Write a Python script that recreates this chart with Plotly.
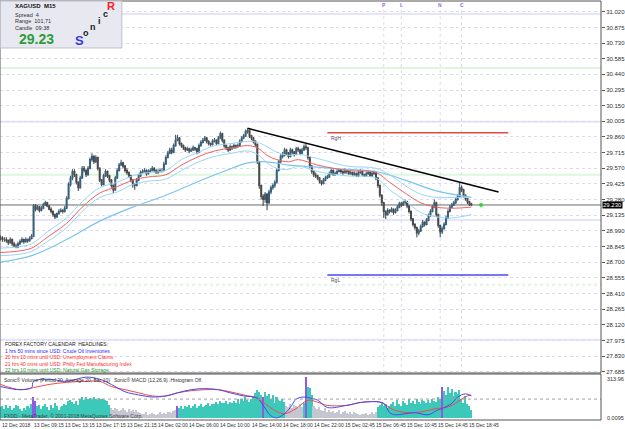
import plotly.graph_objects as go

# ---------------- DATA ----------------
OPEN0 = 28.93
CLOSES = [
    28.92, 28.91, 28.91, 28.90, 28.88, 28.91, 28.87, 28.85, 28.84, 28.87,
    28.89, 28.91, 28.89, 28.91, 28.90, 28.92, 28.94, 29.22, 29.19, 29.21,
    29.18, 29.20, 29.23, 29.25, 29.22, 29.19, 29.17, 29.14, 29.12, 29.15,
    29.17, 29.18, 29.17, 29.20, 29.29, 29.42, 29.48, 29.54, 29.51, 29.44,
    29.39, 29.48, 29.57, 29.55, 29.51, 29.57, 29.65, 29.68, 29.63, 29.67,
    29.57, 29.46, 29.42, 29.50, 29.54, 29.50, 29.46, 29.41, 29.37, 29.48,
    29.55, 29.60, 29.62, 29.59, 29.55, 29.53, 29.50, 29.46, 29.42, 29.41,
    29.46, 29.50, 29.53, 29.54, 29.55, 29.52, 29.54, 29.55, 29.57, 29.55,
    29.53, 29.54, 29.55, 29.55, 29.61, 29.67, 29.71, 29.74, 29.72, 29.78,
    29.83, 29.85, 29.80, 29.78, 29.76, 29.74, 29.75, 29.73, 29.74, 29.76,
    29.75, 29.72, 29.78, 29.81, 29.83, 29.85, 29.82, 29.80, 29.79, 29.82,
    29.83, 29.80, 29.85, 29.89, 29.83, 29.78, 29.76, 29.74, 29.77, 29.76,
    29.78, 29.77, 29.78, 29.82, 29.85, 29.87, 29.91, 29.92, 29.87, 29.85,
    29.82, 29.79, 29.63, 29.41, 29.31, 29.28, 29.33, 29.25, 29.35, 29.39,
    29.41, 29.44, 29.55, 29.63, 29.68, 29.69, 29.74, 29.71, 29.68, 29.74,
    29.72, 29.70, 29.75, 29.74, 29.71, 29.74, 29.77, 29.76, 29.67, 29.59,
    29.54, 29.51, 29.50, 29.48, 29.45, 29.43, 29.46, 29.48, 29.49, 29.52,
    29.55, 29.51, 29.52, 29.54, 29.55, 29.54, 29.53, 29.55, 29.54, 29.52,
    29.53, 29.51, 29.52, 29.50, 29.53, 29.54, 29.51, 29.50, 29.52, 29.53,
    29.50, 29.52, 29.53, 29.48, 29.41, 29.32, 29.25, 29.17, 29.14, 29.18,
    29.17, 29.19, 29.16, 29.18, 29.21, 29.24, 29.23, 29.25, 29.26, 29.22,
    29.17, 29.10, 29.05, 29.02, 28.97, 28.99, 29.03, 29.07, 29.05, 29.09,
    29.13, 29.17, 29.21, 29.25, 29.14, 29.04, 28.98, 29.01, 29.05, 29.11,
    29.17, 29.21, 29.23, 29.25, 29.28, 29.31, 29.39, 29.37, 29.32, 29.29,
    29.26, 29.24, 29.23,
]
HIGHS = [
    28.95, 28.94, 28.93, 28.93, 28.91, 28.93, 28.92, 28.89, 28.87, 28.89,
    28.91, 28.93, 28.92, 28.93, 28.92, 28.94, 28.96, 29.24, 29.24, 29.23,
    29.22, 29.22, 29.25, 29.27, 29.26, 29.23, 29.21, 29.18, 29.15, 29.16,
    29.19, 29.20, 29.19, 29.22, 29.31, 29.44, 29.50, 29.56, 29.56, 29.52,
    29.45, 29.50, 29.59, 29.59, 29.56, 29.59, 29.67, 29.71, 29.69, 29.69,
    29.68, 29.58, 29.47, 29.52, 29.56, 29.55, 29.51, 29.47, 29.42, 29.50,
    29.57, 29.62, 29.65, 29.63, 29.60, 29.57, 29.54, 29.51, 29.47, 29.43,
    29.48, 29.52, 29.55, 29.56, 29.57, 29.56, 29.56, 29.57, 29.59, 29.58,
    29.56, 29.56, 29.57, 29.57, 29.63, 29.69, 29.73, 29.76, 29.76, 29.80,
    29.88, 29.88, 29.86, 29.81, 29.79, 29.77, 29.77, 29.76, 29.76, 29.78,
    29.77, 29.76, 29.80, 29.83, 29.85, 29.87, 29.86, 29.83, 29.81, 29.84,
    29.85, 29.84, 29.87, 29.91, 29.90, 29.84, 29.79, 29.77, 29.79, 29.78,
    29.80, 29.79, 29.80, 29.84, 29.87, 29.89, 29.93, 29.94, 29.93, 29.88,
    29.86, 29.83, 29.80, 29.64, 29.42, 29.33, 29.35, 29.34, 29.37, 29.41,
    29.43, 29.46, 29.57, 29.65, 29.70, 29.72, 29.76, 29.75, 29.72, 29.76,
    29.75, 29.73, 29.77, 29.77, 29.75, 29.76, 29.79, 29.80, 29.77, 29.68,
    29.60, 29.55, 29.53, 29.51, 29.49, 29.46, 29.48, 29.50, 29.51, 29.54,
    29.57, 29.56, 29.54, 29.56, 29.57, 29.56, 29.55, 29.57, 29.56, 29.55,
    29.55, 29.54, 29.54, 29.53, 29.55, 29.56, 29.55, 29.52, 29.54, 29.55,
    29.54, 29.54, 29.55, 29.54, 29.49, 29.42, 29.33, 29.26, 29.18, 29.20,
    29.19, 29.21, 29.20, 29.20, 29.23, 29.26, 29.26, 29.27, 29.28, 29.27,
    29.23, 29.18, 29.11, 29.06, 29.03, 29.01, 29.05, 29.09, 29.08, 29.11,
    29.15, 29.19, 29.23, 29.28, 29.26, 29.15, 29.05, 29.03, 29.07, 29.13,
    29.19, 29.23, 29.25, 29.27, 29.30, 29.33, 29.44, 29.41, 29.38, 29.33,
    29.30, 29.27, 29.25,
]
LOWS = [
    28.90, 28.89, 28.89, 28.88, 28.86, 28.87, 28.85, 28.84, 28.83, 28.83,
    28.86, 28.88, 28.87, 28.88, 28.88, 28.89, 28.91, 28.93, 29.17, 29.18,
    29.16, 29.17, 29.19, 29.22, 29.21, 29.18, 29.15, 29.12, 29.10, 29.11,
    29.14, 29.16, 29.15, 29.16, 29.19, 29.28, 29.40, 29.46, 29.49, 29.42,
    29.36, 29.38, 29.47, 29.53, 29.49, 29.50, 29.56, 29.63, 29.61, 29.62,
    29.55, 29.44, 29.40, 29.41, 29.49, 29.48, 29.44, 29.39, 29.34, 29.36,
    29.47, 29.54, 29.59, 29.57, 29.53, 29.51, 29.48, 29.44, 29.39, 29.37,
    29.40, 29.45, 29.49, 29.52, 29.53, 29.50, 29.51, 29.53, 29.54, 29.53,
    29.52, 29.52, 29.53, 29.53, 29.54, 29.60, 29.66, 29.70, 29.70, 29.71,
    29.77, 29.82, 29.78, 29.76, 29.74, 29.72, 29.73, 29.71, 29.72, 29.73,
    29.73, 29.70, 29.71, 29.77, 29.80, 29.82, 29.80, 29.78, 29.77, 29.78,
    29.81, 29.78, 29.79, 29.84, 29.81, 29.76, 29.74, 29.72, 29.73, 29.74,
    29.75, 29.75, 29.76, 29.77, 29.81, 29.84, 29.86, 29.89, 29.85, 29.83,
    29.80, 29.77, 29.61, 29.38, 29.28, 29.22, 29.25, 29.18, 29.24, 29.33,
    29.37, 29.39, 29.43, 29.54, 29.62, 29.66, 29.68, 29.69, 29.66, 29.67,
    29.70, 29.68, 29.69, 29.72, 29.69, 29.70, 29.73, 29.74, 29.65, 29.57,
    29.52, 29.49, 29.48, 29.46, 29.43, 29.41, 29.42, 29.45, 29.47, 29.48,
    29.51, 29.50, 29.50, 29.51, 29.53, 29.52, 29.51, 29.52, 29.52, 29.51,
    29.51, 29.50, 29.50, 29.49, 29.49, 29.52, 29.50, 29.49, 29.49, 29.51,
    29.49, 29.49, 29.51, 29.46, 29.39, 29.30, 29.22, 29.11, 29.10, 29.13,
    29.15, 29.16, 29.14, 29.15, 29.17, 29.20, 29.21, 29.22, 29.24, 29.20,
    29.15, 29.08, 29.03, 29.00, 28.93, 28.95, 28.98, 29.02, 29.03, 29.04,
    29.08, 29.12, 29.16, 29.20, 29.12, 29.02, 28.93, 28.96, 29.00, 29.04,
    29.10, 29.16, 29.20, 29.22, 29.24, 29.27, 29.30, 29.35, 29.30, 29.27,
    29.24, 29.22, 29.22,
]

MA_X = [0, 8, 16, 24, 34, 42, 51, 60, 68, 76, 85, 93, 102, 110, 119, 127, 132, 137, 142, 148,
        153, 163, 178, 193, 200, 208, 216, 224, 232, 242]
MA_MID = [28.79, 28.80, 28.83, 28.93, 29.06, 29.21, 29.34, 29.40, 29.46, 29.49,
          29.51, 29.60, 29.68, 29.73, 29.76, 29.78, 29.76, 29.69, 29.65, 29.63,
          29.65, 29.60, 29.55, 29.53, 29.44, 29.34, 29.25, 29.21, 29.20, 29.21]
MA_UP = [28.83, 28.84, 28.87, 28.98, 29.11, 29.26, 29.39, 29.44, 29.50, 29.53,
         29.55, 29.65, 29.72, 29.78, 29.80, 29.82, 29.81, 29.77, 29.72, 29.69,
         29.70, 29.66, 29.59, 29.57, 29.51, 29.41, 29.33, 29.30, 29.30, 29.30]
MA_DN = [28.76, 28.77, 28.80, 28.89, 29.02, 29.17, 29.30, 29.35, 29.42, 29.45,
         29.47, 29.55, 29.63, 29.68, 29.71, 29.73, 29.70, 29.62, 29.57, 29.56,
         29.59, 29.54, 29.50, 29.48, 29.37, 29.27, 29.16, 29.12, 29.11, 29.14]
SLOW_X = [0, 16, 34, 51, 68, 85, 102, 119, 127, 137, 148, 163, 178, 193, 208, 224, 242]
SLOW = [28.70, 28.76, 28.91, 29.08, 29.21, 29.32, 29.45, 29.57, 29.62, 29.63,
        29.60, 29.58, 29.56, 29.54, 29.46, 29.36, 29.30]

TREND_X = [127, 256]
TREND_Y = [29.94, 29.35]
RGH_X = [168, 261]
RGH = 29.90
RGL_X = [168, 261]
RGL = 28.58
BID = 29.23
NEXT_BAR = 247
PIVOTS = [31.00, 30.50, 30.00, 29.51, 29.09, 28.49, 27.98]
PIVOT_KIND = ["v", "g", "v", "g", "v", "g", "v"]
NEWS_BARS = [197, 206, 226, 237]
NEWS_TAGS = ["P", "L", "N", "C"]

PRICE_TICKS = [31.020, 30.875, 30.730, 30.585, 30.440, 30.295, 30.150, 30.005, 29.860,
               29.715, 29.570, 29.425, 29.280, 29.135, 28.990, 28.845, 28.700, 28.555,
               28.410, 28.265, 28.120, 27.975, 27.830, 27.685]

VOLUME = [
    85, 95, 70, 100, 80, 90,
    60, 75, 100, 95, 70, 55, 80, 65, 90, 75,
    110, 165, 130, 90, 100,
    70, 95, 110, 85, 60, 100, 75, 120, 90, 65,
    85, 95, 110, 100, 130,
    140, 125, 110, 130, 100,
    150, 160, 140, 165, 150, 155, 145, 160, 150, 140, 155, 145, 150,
    140, 130, 100,
    75, 60, 80, 70, 55, 65, 80, 60, 50, 70, 55, 65, 45, 60, 50,
    40, 35, 30, 45, 25, 35, 40, 30, 25, 35, 45, 30, 40, 35, 50,
    45, 40, 55, 60, 95,
    80, 90, 70, 95, 85, 100, 75, 90, 105, 80, 95, 110, 85, 90, 100, 115, 95, 105,
    110, 125, 105, 130, 120, 115, 135, 110, 125, 120,
    130, 120, 145, 110, 150, 135, 160, 140, 125, 150,
    170, 190, 215, 200, 180,
    165,
    200, 170, 185, 150, 175, 120, 165, 140, 130, 150, 125,
    95, 85, 110, 80, 100, 90, 75, 105, 85,
    120, 314,
    240, 230, 180,
    95, 80, 70, 85, 60, 55, 75, 50, 65, 45, 55, 40, 50, 60, 35, 45, 55, 40, 30, 50, 35, 45, 40, 30,
    25, 35, 30, 40, 25, 30, 45, 35, 50,
    85, 100, 120, 95, 110, 80, 90,
    105, 125, 90, 140, 110, 95, 130, 115, 100, 145, 120, 135, 105, 150, 125, 110, 140, 130,
    120, 140, 115, 150, 135, 125, 160, 145,
    235,
    210, 180, 240, 195, 225, 170, 200, 185, 215,
    150, 120, 170, 110, 90, 60,
]
VOL_KIND = ("t" * 17 + "pp" + "t" * 38 + "g" * 34 + "p" + "t" * 43 + "p" + "t" * 11
            + "g" * 9 + "t" + "p" + "t" * 3 + "g" * 33 + "t" * 33 + "p" + "t" * 15)

MACD_X = [0, 10, 16, 17, 25, 34, 44, 51, 57, 64, 71, 78, 85, 91, 98, 105, 112, 118, 125, 132,
          135, 139, 142, 146, 149, 152, 156, 159, 163, 168, 178, 186, 197, 200, 203, 208, 213,
          220, 224, 227, 232, 235, 239, 242]
MACD_MAIN = [0.06, 0.045, 0.055, 0.085, 0.095, 0.085, 0.105, 0.095, 0.07, 0.035,
             0.02, 0.01, 0.015, 0.03, 0.045, 0.05, 0.045, 0.03, 0.015, 0.005,
             -0.03, -0.08, -0.09, -0.07, -0.04, 0.0, 0.01, 0.005, -0.005, -0.04,
             -0.03, -0.015, -0.02, -0.065, -0.075, -0.07, -0.065, -0.075, -0.055, -0.045,
             -0.02, 0.01, 0.025, 0.015]
SIG_X = [0, 10, 17, 25, 34, 44, 51, 57, 64, 71, 78, 85, 91, 98, 105, 112, 118, 125, 132, 135,
         141, 146, 152, 158, 163, 168, 178, 186, 195, 200, 203, 210, 217, 224, 229, 234, 237,
         240, 242]
MACD_SIG = [0.07, 0.045, 0.055, 0.07, 0.08, 0.085, 0.085, 0.06, 0.045, 0.03,
            0.015, 0.015, 0.03, 0.04, 0.045, 0.045, 0.035, 0.02, 0.005, -0.015,
            -0.055, -0.07, -0.045, -0.005, -0.015, -0.03, -0.03, -0.015, -0.015, -0.04,
            -0.055, -0.065, -0.06, -0.045, -0.04, -0.02, 0.0, 0.015, 0.02]

TIME_LABELS = ["12 Dec 2018", "13 Dec 09:15", "13 Dec 13:15", "13 Dec 17:15", "13 Dec 21:15",
               "14 Dec 02:00", "14 Dec 06:00", "14 Dec 10:00", "14 Dec 14:00", "14 Dec 18:00",
               "14 Dec 22:00", "15 Dec 02:45", "15 Dec 06:45", "15 Dec 10:45", "15 Dec 14:45",
               "15 Dec 18:45"]
TIME_BARS = [0, 16, 32, 48, 64, 80, 96, 112, 128, 144, 160, 176, 192, 208, 224, 240]

NEWS_LINES = [
    ("FOREX FACTORY CALENDAR  HEADLINES:", "#202020"),
    ("1 hrs 50 mins since USD: Crude Oil Inventories", "#2828ff"),
    ("20 hrs 10 mins until USD: Unemployment Claims", "#ff2828"),
    ("21 hrs 40 mins until USD: Philly Fed Manufacturing Index", "#ff2828"),
    ("22 hrs 10 mins until USD: Natural Gas Storage", "#22962a"),
]

# ---------------- GEOMETRY ----------------
W, H = 625, 429
ML, MR, MT, MB = 0, 18, 1, 9
PW = W - ML - MR
PH = H - MT - MB
FONT = "Liberation Sans"


def px(x):
    return (x - ML) / PW


def py(y):
    return (H - MB - y) / PH


X_RANGE = [-0.25, 308.65]
Y_RANGE = [27.673, 31.120]

bars = list(range(len(CLOSES)))
opens = [OPEN0] + CLOSES[:-1]

fig = go.Figure()

# pivot-like faint levels
for lvl, kind in zip(PIVOTS, PIVOT_KIND):
    fig.add_shape(type="line", xref="paper", yref="y", x0=0, x1=1, y0=lvl, y1=lvl,
                  line=dict(color="#e4e4fa" if kind == "v" else "#def6de", width=2,
                            dash="dot" if lvl < 28.6 and kind == "g" else "solid"),
                  layer="below")

# news verticals
for b in NEWS_BARS:
    fig.add_shape(type="line", xref="x", yref="paper", x0=b, x1=b, y0=py(373), y1=1,
                  line=dict(color="#dadaee", width=1, dash="dot"), layer="below")

# bid line
fig.add_shape(type="line", xref="paper", yref="y", x0=0, x1=1, y0=BID, y1=BID,
              line=dict(color="#6a6a6a", width=1), layer="below")

fig.add_trace(go.Scatter(x=SLOW_X, y=SLOW, mode="lines", line=dict(color="#7cc4f0", width=1.2, shape="spline"),
                         hoverinfo="skip", showlegend=False))
fig.add_trace(go.Scatter(x=MA_X, y=MA_UP, mode="lines", line=dict(color="#9ad6f6", width=1, shape="spline"),
                         hoverinfo="skip", showlegend=False))
fig.add_trace(go.Scatter(x=MA_X, y=MA_DN, mode="lines", line=dict(color="#9ad6f6", width=1, shape="spline"),
                         hoverinfo="skip", showlegend=False))
fig.add_trace(go.Scatter(x=MA_X, y=MA_MID, mode="lines", line=dict(color="#f06060", width=1, shape="spline"),
                         hoverinfo="skip", showlegend=False))

fig.add_trace(go.Candlestick(
    x=bars, open=opens, high=HIGHS, low=LOWS, close=CLOSES,
    increasing=dict(line=dict(color="#3a5f78", width=1.1), fillcolor="#1f8fcf"),
    decreasing=dict(line=dict(color="#4a4a4a", width=1.1), fillcolor="#5a5a5a"),
    whiskerwidth=0, hoverinfo="skip", showlegend=False))

fig.add_trace(go.Scatter(x=TREND_X, y=TREND_Y, mode="lines", line=dict(color="#000000", width=1.5),
                         hoverinfo="skip", showlegend=False))
fig.add_trace(go.Scatter(x=RGH_X, y=[RGH, RGH], mode="lines", line=dict(color="#e04848", width=1.5),
                         hoverinfo="skip", showlegend=False))
fig.add_trace(go.Scatter(x=RGL_X, y=[RGL, RGL], mode="lines", line=dict(color="#4a4af0", width=1.5),
                         hoverinfo="skip", showlegend=False))
fig.add_trace(go.Scatter(x=[NEXT_BAR], y=[BID], mode="markers", marker=dict(color="#22dd22", size=4),
                         hoverinfo="skip", showlegend=False))

# volume
kind_color = {"t": "#3cc9b9", "g": "#c6c6d2", "p": "#8c5ce6"}
fig.add_trace(go.Bar(x=bars, y=VOLUME, marker=dict(color=[kind_color[k] for k in VOL_KIND], line=dict(width=0)),
                     width=0.8, yaxis="y2", hoverinfo="skip", showlegend=False))
fig.add_shape(type="line", xref="paper", yref="y3", x0=0, x1=1, y0=0, y1=0,
              line=dict(color="#a0a0a0", width=1, dash="dot"))
fig.add_trace(go.Scatter(x=SIG_X, y=MACD_SIG, mode="lines", line=dict(color="#f04848", width=1, shape="spline"),
                         yaxis="y3", hoverinfo="skip", showlegend=False))
fig.add_trace(go.Scatter(x=MACD_X, y=MACD_MAIN, mode="lines", line=dict(color="#4848f0", width=1, shape="spline"),
                         yaxis="y3", hoverinfo="skip", showlegend=False))

# panel frames
fig.add_shape(type="rect", xref="paper", yref="paper", x0=0, x1=1, y0=py(373), y1=1,
              line=dict(color="#555555", width=1))
fig.add_shape(type="rect", xref="paper", yref="paper", x0=0, x1=1, y0=0, y1=py(374),
              line=dict(color="#555555", width=1))

# info box
fig.add_shape(type="rect", xref="paper", yref="paper", x0=px(0.5), x1=px(123), y0=py(48), y1=py(1),
              fillcolor="#e8e8f0", line=dict(color="#c0c0cc", width=1))

ann = []


def txt(x, y, s, size=5, color="#202020", bold=False, anchor="left", xref="paper", yref="paper", **kw):
    ann.append(dict(x=x, y=y, xref=xref, yref=yref, text=("<b>%s</b>" % s) if bold else s,
                    showarrow=False, xanchor=anchor, yanchor="middle",
                    font=dict(family=FONT, size=size, color=color), **kw))


txt(px(13), py(6.5), "XAGUSD  M15", size=6, bold=True, color="#101010")
txt(px(13), py(15), "Spread  4", size=5.5, color="#303030")
txt(px(13), py(21.5), "Range  101,71", size=5.5, color="#303030")
txt(px(13), py(28), "Candle  09:38", size=5.5, color="#303030")
txt(px(17), py(39), "29.23", size=14, bold=True, color="#2e9e3a")
txt(px(74), py(40), "S", size=13, bold=True, color="#3a3adc")
txt(px(82), py(33), "o", size=9, bold=True, color="#202020")
txt(px(89), py(27), "n", size=9, bold=True, color="#202020")
txt(px(97), py(21), "i", size=9, bold=True, color="#202020")
txt(px(102), py(14.5), "c", size=9, bold=True, color="#202020")
txt(px(106), py(6.5), "R", size=11, bold=True, color="#ff2020")

for (s, c), yy in zip(NEWS_LINES, [344, 351, 357, 363.5, 369.5]):
    txt(px(3), py(yy), s, size=5, color=c)

txt(px(2), py(380), "Sonic\u00ae Volume (Period 20, Average 20, Bar 10)", size=5, color="#303030")
txt(px(113), py(380), "Sonic\u00ae MACD (12,26,9) .Histogram Off.", size=5, color="#303030")
txt(px(2), py(415.5), "FXDD - MetaTrader, \u00a9 2001-2018 MetaQuotes Software Corp.", size=5, color="#404040")

txt(RGH_X[0] + 1, RGH, "RgH", size=5, color="#505070", xref="x", yref="y", yshift=-5)
txt(RGL_X[0] + 1, RGL, "RgL", size=5, color="#505070", xref="x", yref="y", yshift=-5)

for b, t in zip(NEWS_BARS, NEWS_TAGS):
    txt(b, py(5), t, size=5, bold=True, color="#a070f0", anchor="center", xref="x")

for b, t in zip(TIME_BARS, TIME_LABELS):
    txt(b, py(424.5), t, size=5, color="#303030", xref="x", xshift=0)

# right axis extras
ann.append(dict(x=1, y=BID, xref="paper", yref="y", text="29.230", showarrow=False, xanchor="left",
                yanchor="middle", xshift=1, bgcolor="#000000", borderpad=0,
                font=dict(family=FONT, size=6, color="#ffffff")))
txt(px(611), py(378.5), "313.96", size=5.5, color="#303030")
txt(px(611), py(417.5), "0.0095", size=5.5, color="#303030")

fig.update_layout(
    width=W, height=H,
    margin=dict(l=ML, r=MR, t=MT, b=MB),
    paper_bgcolor="#ffffff", plot_bgcolor="#ffffff",
    showlegend=False, bargap=0,
    annotations=ann,
    xaxis=dict(domain=[0, 1], range=X_RANGE, anchor="y2", showticklabels=False, showgrid=False,
               zeroline=False, showline=False, ticks="", rangeslider=dict(visible=False), fixedrange=True),
    yaxis=dict(domain=[py(373), 1], range=Y_RANGE, side="right", anchor="x",
               tickvals=PRICE_TICKS, ticktext=["%.3f" % v for v in PRICE_TICKS],
               tickfont=dict(family=FONT, size=6, color="#303030"), ticks="outside", ticklen=3,
               tickcolor="#555555", showgrid=True, gridcolor="#dcdce8", griddash="dot", gridwidth=1,
               zeroline=False, showline=False),
    yaxis2=dict(domain=[0, py(374)], range=[-12, 335], anchor="x", showticklabels=False,
                showgrid=False, zeroline=False, showline=False, ticks=""),
    yaxis3=dict(overlaying="y2", range=[-0.1, 0.12], visible=False, anchor="x"),
)

fig.write_html("out.html")
